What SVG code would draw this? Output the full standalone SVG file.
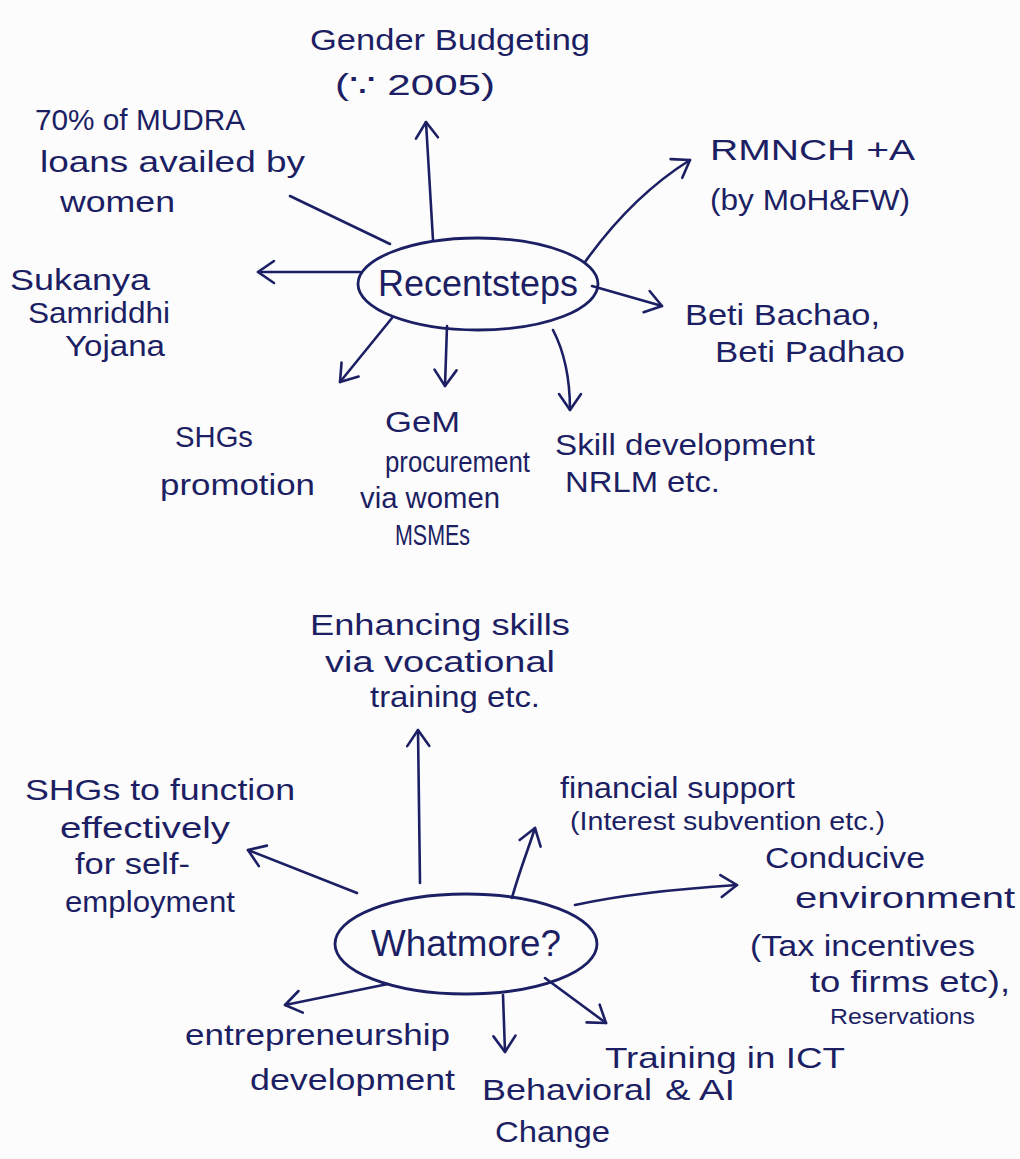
<svg xmlns="http://www.w3.org/2000/svg" width="1020" height="1159" viewBox="0 0 1020 1159">
  <defs>
    <marker id="chev" markerUnits="userSpaceOnUse" markerWidth="26" markerHeight="26" viewBox="0 0 26 26" refX="22" refY="13" orient="auto">
      <path d="M6,2 L22,13 L6,24" fill="none" stroke="#1c1f63" stroke-width="2.6" stroke-linecap="round" stroke-linejoin="round"/>
    </marker>
    <style>
      .bg { fill: #fcfcfc; }
      .hub { fill: none; stroke: #1c1f63; stroke-width: 2.8; }
      .edge { fill: none; stroke: #1c1f63; stroke-width: 2.6; stroke-linecap: round; }
      .arrow { marker-end: url(#chev); }
      text { font-family: "Liberation Sans", Arial, sans-serif; fill: #1c1f63; font-size: 30px; }
      .hubtxt { font-size: 36px; }
      .mid { font-size: 26px; }
      .small { font-size: 22px; }
    </style>
  </defs>

  <rect class="bg" x="0" y="0" width="1020" height="1159"/>

  <!-- connectors -->
  <g id="connectors">
    <!-- Recent steps spokes -->
    <path class="edge arrow" d="M433,240 L426,122"/>
    <path class="edge" d="M390,244 L290,196"/>
    <path class="edge arrow" d="M585,262 C615,220 650,185 690,160"/>
    <path class="edge arrow" d="M592,286 L662,306"/>
    <path class="edge arrow" d="M360,272 L258,272"/>
    <path class="edge arrow" d="M392,318 L340,382"/>
    <path class="edge arrow" d="M447,326 L445,386"/>
    <path class="edge arrow" d="M553,330 C566,355 570,385 570,410"/>
    <!-- What more spokes -->
    <path class="edge arrow" d="M420,883 L418,730"/>
    <path class="edge arrow" d="M357,893 L248,850"/>
    <path class="edge arrow" d="M512,898 C518,875 528,850 535,828"/>
    <path class="edge arrow" d="M575,905 C630,893 690,888 737,885"/>
    <path class="edge arrow" d="M388,984 L285,1005"/>
    <path class="edge arrow" d="M503,995 L505,1052"/>
    <path class="edge arrow" d="M545,978 L606,1023"/>
  </g>

  <!-- hub: recent steps -->
  <g id="recent-steps">
    <ellipse class="hub" cx="478" cy="284" rx="120" ry="46"/>
    <text class="hubtxt" x="478" y="296" text-anchor="middle" textLength="200" lengthAdjust="spacingAndGlyphs">Recentsteps</text>
  </g>

  <g id="gender-budgeting">
    <text x="310" y="50" textLength="280" lengthAdjust="spacingAndGlyphs">Gender Budgeting</text>
    <text x="335" y="95" textLength="160" lengthAdjust="spacingAndGlyphs">(∵ 2005)</text>
  </g>

  <g id="mudra">
    <text x="35" y="130" textLength="210" lengthAdjust="spacingAndGlyphs">70% of MUDRA</text>
    <text x="40" y="172" textLength="265" lengthAdjust="spacingAndGlyphs">loans availed by</text>
    <text x="60" y="212" textLength="115" lengthAdjust="spacingAndGlyphs">women</text>
  </g>

  <g id="rmnch">
    <text x="710" y="160" textLength="205" lengthAdjust="spacingAndGlyphs">RMNCH +A</text>
    <text x="710" y="210" textLength="200" lengthAdjust="spacingAndGlyphs">(by MoH&amp;FW)</text>
  </g>

  <g id="beti-bachao">
    <text x="685" y="325" textLength="195" lengthAdjust="spacingAndGlyphs">Beti Bachao,</text>
    <text x="715" y="362" textLength="190" lengthAdjust="spacingAndGlyphs">Beti Padhao</text>
  </g>

  <g id="sukanya">
    <text x="10" y="290" textLength="140" lengthAdjust="spacingAndGlyphs">Sukanya</text>
    <text x="28" y="323" textLength="142" lengthAdjust="spacingAndGlyphs">Samriddhi</text>
    <text x="65" y="356" textLength="100" lengthAdjust="spacingAndGlyphs">Yojana</text>
  </g>

  <g id="shg-promotion">
    <text x="175" y="447" textLength="78" lengthAdjust="spacingAndGlyphs">SHGs</text>
    <text x="160" y="495" textLength="155" lengthAdjust="spacingAndGlyphs">promotion</text>
  </g>

  <g id="gem">
    <text x="385" y="432" textLength="75" lengthAdjust="spacingAndGlyphs">GeM</text>
    <text x="385" y="472" textLength="145" lengthAdjust="spacingAndGlyphs">procurement</text>
    <text x="360" y="508" textLength="140" lengthAdjust="spacingAndGlyphs">via women</text>
    <text x="395" y="545" textLength="75" lengthAdjust="spacingAndGlyphs">MSMEs</text>
  </g>

  <g id="skill-development">
    <text x="555" y="455" textLength="260" lengthAdjust="spacingAndGlyphs">Skill development</text>
    <text x="565" y="492" textLength="155" lengthAdjust="spacingAndGlyphs">NRLM etc.</text>
  </g>

  <!-- hub: what more -->
  <g id="what-more">
    <ellipse class="hub" cx="466" cy="944" rx="131" ry="50"/>
    <text class="hubtxt" x="466" y="956" text-anchor="middle" textLength="190" lengthAdjust="spacingAndGlyphs">Whatmore?</text>
  </g>

  <g id="enhancing-skills">
    <text x="310" y="635" textLength="260" lengthAdjust="spacingAndGlyphs">Enhancing skills</text>
    <text x="325" y="672" textLength="230" lengthAdjust="spacingAndGlyphs">via vocational</text>
    <text x="370" y="707" textLength="170" lengthAdjust="spacingAndGlyphs">training etc.</text>
  </g>

  <g id="shg-function">
    <text x="25" y="800" textLength="270" lengthAdjust="spacingAndGlyphs">SHGs to function</text>
    <text x="60" y="838" textLength="170" lengthAdjust="spacingAndGlyphs">effectively</text>
    <text x="75" y="874" textLength="115" lengthAdjust="spacingAndGlyphs">for self-</text>
    <text x="65" y="912" textLength="170" lengthAdjust="spacingAndGlyphs">employment</text>
  </g>

  <g id="financial-support">
    <text x="560" y="798" textLength="235" lengthAdjust="spacingAndGlyphs">financial support</text>
    <text class="mid" x="570" y="830" textLength="315" lengthAdjust="spacingAndGlyphs">(Interest subvention etc.)</text>
  </g>

  <g id="conducive-environment">
    <text x="765" y="868" textLength="160" lengthAdjust="spacingAndGlyphs">Conducive</text>
    <text x="795" y="908" textLength="220" lengthAdjust="spacingAndGlyphs">environment</text>
    <text x="750" y="956" textLength="225" lengthAdjust="spacingAndGlyphs">(Tax incentives</text>
    <text x="810" y="992" textLength="200" lengthAdjust="spacingAndGlyphs">to firms etc),</text>
    <text class="small" x="830" y="1024" textLength="145" lengthAdjust="spacingAndGlyphs">Reservations</text>
  </g>

  <g id="entrepreneurship">
    <text x="185" y="1045" textLength="265" lengthAdjust="spacingAndGlyphs">entrepreneurship</text>
    <text x="250" y="1090" textLength="205" lengthAdjust="spacingAndGlyphs">development</text>
  </g>

  <g id="behavioral-change">
    <text x="482" y="1100" textLength="170" lengthAdjust="spacingAndGlyphs">Behavioral</text>
    <text x="495" y="1142" textLength="115" lengthAdjust="spacingAndGlyphs">Change</text>
  </g>

  <g id="training-ict">
    <text x="605" y="1068" textLength="240" lengthAdjust="spacingAndGlyphs">Training in ICT</text>
    <text x="665" y="1100" textLength="70" lengthAdjust="spacingAndGlyphs">&amp; AI</text>
  </g>
</svg>
